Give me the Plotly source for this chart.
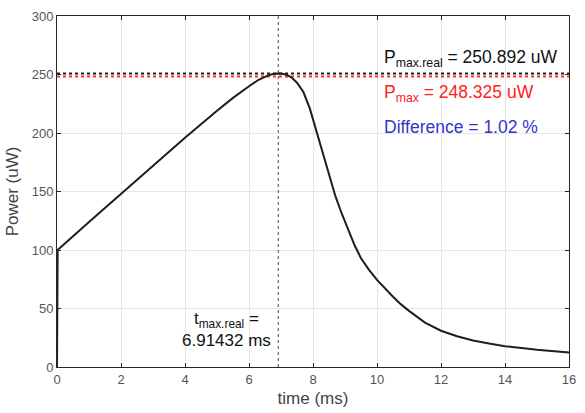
import plotly.graph_objects as go

# ---- data ----
time_ms = [0.0, 0.02, 1.0, 2.0, 3.0, 4.0, 5.0, 5.5, 6.0, 6.3, 6.6, 6.75, 6.91432, 7.05, 7.2,
           7.35, 7.5, 7.7, 7.9, 8.1, 8.3, 8.5, 8.7, 8.9, 9.1, 9.3, 9.5, 9.75, 10.0, 10.25,
           10.5, 10.75, 11.0, 11.5, 12.0, 12.5, 13.0, 13.5, 14.0, 15.0, 16.0]
power_uw = [0.0, 100.0, 124.0, 148.0, 172.0, 196.0, 219.0, 230.0, 240.0, 245.5, 249.3, 250.5,
            250.892, 250.6, 249.5, 247.0, 243.0, 235.0, 221.0, 202.0, 182.0, 163.0, 146.0,
            131.0, 117.0, 104.0, 93.0, 83.0, 74.5, 67.0, 60.0, 53.5, 48.0, 38.0, 31.0, 26.3,
            22.7, 20.0, 17.8, 14.7, 12.5]

p_max_real = 250.892
p_max = 248.325
t_max_real = 6.91432
difference_pct = 1.02

x_range = [0, 16]
y_range = [0, 300]

fig = go.Figure()

fig.add_trace(go.Scatter(x=x_range, y=[p_max_real, p_max_real], mode="lines",
                         line=dict(color="#222222", width=2, dash="dot"), hoverinfo="skip"))
fig.add_trace(go.Scatter(x=x_range, y=[p_max, p_max], mode="lines",
                         line=dict(color="#ff2a2a", width=2, dash="dot"), hoverinfo="skip"))
fig.add_trace(go.Scatter(x=[t_max_real, t_max_real], y=y_range, mode="lines",
                         line=dict(color="#444444", width=1, dash="3px,3px"), hoverinfo="skip"))
fig.add_trace(go.Scatter(x=time_ms, y=power_uw, mode="lines",
                         line=dict(color="#1e1e1e", width=2)))

font = "Liberation Sans, Arial, sans-serif"

fig.add_annotation(x=10.15, y=264, xref="x", yref="y", xanchor="left", yanchor="middle",
                   text=f"P<sub>max.real</sub> = {p_max_real} uW", showarrow=False,
                   font=dict(family=font, size=17.5, color="#111111"))
fig.add_annotation(x=10.15, y=234, xref="x", yref="y", xanchor="left", yanchor="middle",
                   text=f"P<sub>max</sub> = {p_max} uW", showarrow=False,
                   font=dict(family=font, size=17.5, color="#ff2020"))
fig.add_annotation(x=10.15, y=205, xref="x", yref="y", xanchor="left", yanchor="middle",
                   text=f"Difference = {difference_pct:.2f} %", showarrow=False,
                   font=dict(family=font, size=17.5, color="#3333cc"))
fig.add_annotation(x=5.29, y=32, xref="x", yref="y", xanchor="center", yanchor="middle",
                   text=f"t<sub>max.real</sub> =<br>{t_max_real} ms", showarrow=False, align="center",
                   font=dict(family=font, size=17, color="#111111"))

axis_common = dict(showline=True, linecolor="#262626", linewidth=1, mirror="ticks",
                   ticks="inside", ticklen=4, tickcolor="#262626",
                   showgrid=True, gridcolor="#e6e6e6", gridwidth=1, zeroline=False,
                   tickfont=dict(family=font, size=13, color="#555555"),
                   title_font=dict(family=font, size=17, color="#444444"))

fig.update_xaxes(range=x_range, dtick=2, tick0=0, title_text="time (ms)", title_standoff=6,
                 **axis_common)
fig.update_yaxes(range=y_range, dtick=50, tick0=0, title_text="Power (uW)", title_standoff=8,
                 **axis_common)

fig.update_layout(width=585, height=413, showlegend=False,
                  plot_bgcolor="white", paper_bgcolor="white",
                  margin=dict(l=57, r=15, t=9, b=45))

fig.write_html("out.html")
